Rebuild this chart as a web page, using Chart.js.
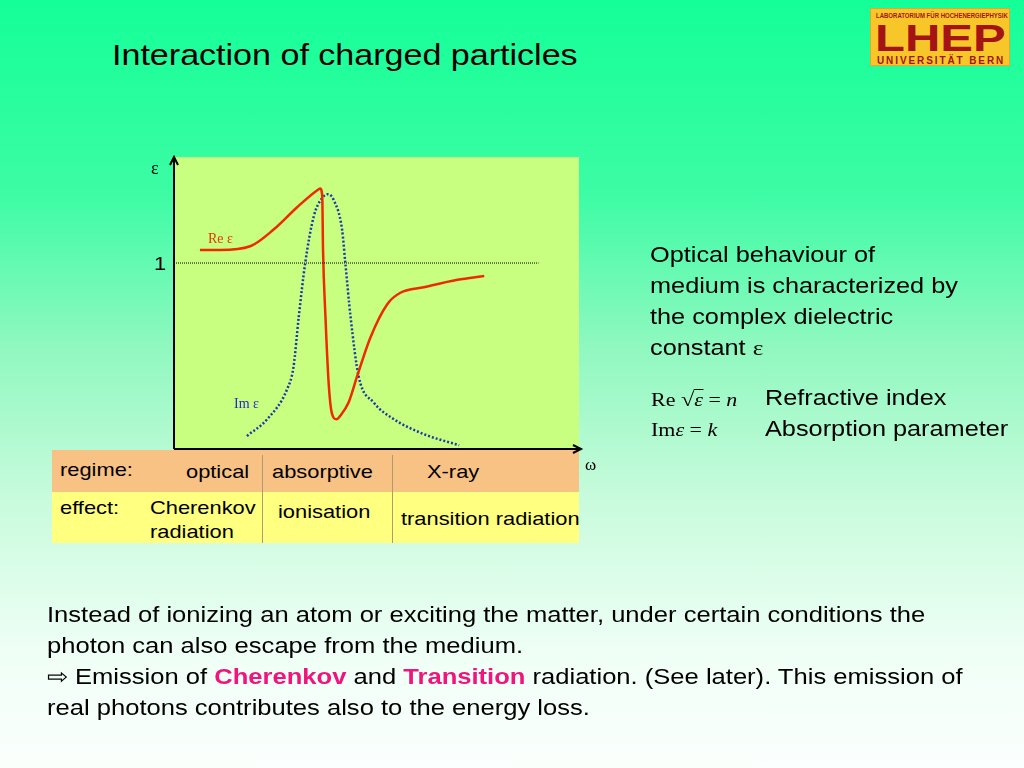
<!DOCTYPE html>
<html>
<head>
<meta charset="utf-8">
<script src="https://cdn.jsdelivr.net/npm/chart.js@4"></script>
<style>
  html, body { margin: 0; padding: 0; }
  body {
    width: 1024px; height: 768px; position: relative; overflow: hidden;
    font-family: "Liberation Sans", Arial, sans-serif; color: #000;
    background: linear-gradient(to bottom, #14ff98 0%, #3cfca4 25%, #8ff8bf 45%, #c8fbdc 65%, #effff6 85%, #fbfffd 100%);
  }
  #chart { position: absolute; left: 0; top: 0; }
  .t { position: absolute; white-space: nowrap; line-height: 1; }
  .sx { transform: scaleX(1.15); transform-origin: 0 0; }
  .serif { font-family: "Liberation Serif", "Times New Roman", serif; }
  .fx { font-size: 18px; transform: scaleX(1.22); transform-origin: 0 0; }
  #title { left: 112px; top: 40px; font-size: 30px; transform: scaleX(1.135); transform-origin: 0 0; }
  #logo {
    position: absolute; left: 870px; top: 8px; width: 140px; height: 58px;
    background: #f7c72a; color: #a41414; font-weight: bold; box-shadow: inset 0 0 0 1px #e0a830;
  }
  #logo div { position: absolute; white-space: nowrap; line-height: 1; transform-origin: 0 0; }
  #logo .a { left: 6px; top: 4px; font-size: 7px; transform: scaleX(0.86); }
  #logo .b { left: 5px; top: 13px; font-size: 36px; font-weight: bold; transform: scaleX(1.36); }
  #logo .c { left: 7px; top: 48px; font-size: 10px; letter-spacing: 1.9px; }
  #tbl { position: absolute; left: 52px; top: 450px; width: 527px; height: 93px; }
  #row1 { position: absolute; left: 0; top: 0; width: 527px; height: 42px; background: #f7c284; }
  #row2 { position: absolute; left: 0; top: 42px; width: 527px; height: 51px; background: #ffff80; }
  .div { position: absolute; width: 1px; background: #b09a70; top: 5px; height: 88px; }
  .cell { font-size: 19px; }
  .side { font-size: 22px; }
  .para { font-size: 22px; left: 47px; transform: scaleX(1.162); transform-origin: 0 0; }
  .hl { color: #f0147c; font-weight: bold; }
</style>
</head>
<body>
<div class="t" id="title">Interaction of charged particles</div>

<div id="logo">
  <div class="a">LABORATORIUM FÜR HOCHENERGIEPHYSIK</div>
  <div class="b">LHEP</div>
  <div class="c">UNIVERSITÄT BERN</div>
</div>

<div id="tbl">
  <div id="row1"></div>
  <div id="row2"></div>
  <div class="div" style="left:210px"></div>
  <div class="div" style="left:340px"></div>
  <div class="t cell sx" style="left:8px;top:10px">regime:</div>
  <div class="t cell sx" style="left:134px;top:12px">optical</div>
  <div class="t cell sx" style="left:220px;top:12px">absorptive</div>
  <div class="t cell sx" style="left:375px;top:12px">X-ray</div>
  <div class="t cell sx" style="left:8px;top:48px">effect:</div>
  <div class="t cell sx" style="left:98px;top:48px">Cherenkov</div>
  <div class="t cell sx" style="left:98px;top:72px">radiation</div>
  <div class="t cell sx" style="left:226px;top:52px">ionisation</div>
  <div class="t cell sx" style="left:349px;top:59px">transition radiation</div>
</div>

<canvas id="chart" width="1024" height="768"></canvas>

<div class="t serif" style="left:151px;top:159px;font-size:18px">ε</div>
<div class="t sx" style="left:154px;top:254px;font-size:19px">1</div>
<div class="t serif" style="left:585px;top:456px;font-size:17px">ω</div>
<div class="t serif" style="left:208px;top:232px;font-size:14px;color:#e03a08">Re ε</div>
<div class="t serif" style="left:234px;top:397px;font-size:14px;color:#2828c8">Im ε</div>

<div class="t side sx" style="left:650px;top:244px">Optical behaviour of</div>
<div class="t side sx" style="left:650px;top:275px">medium is characterized by</div>
<div class="t side sx" style="left:650px;top:306px">the complex dielectric</div>
<div class="t side sx" style="left:650px;top:337px">constant <span class="serif">ε</span></div>

<div class="t serif fx" style="left:651px;top:389px">Re <span style="font-size:20px">√</span><span style="border-top:1px solid #000;font-style:italic">ε</span> = <i>n</i></div>
<div class="t serif fx" style="left:651px;top:421px">Im<i>ε</i> = <i>k</i></div>
<div class="t side sx" style="left:765px;top:387px">Refractive index</div>
<div class="t side sx" style="left:765px;top:418px">Absorption parameter</div>

<div class="t para" style="top:604px">Instead of ionizing an atom or exciting the matter, under certain conditions the</div>
<div class="t para" style="top:635px">photon can also escape from the medium.</div>
<div class="t para" style="top:666px">⇨ Emission of <span class="hl">Cherenkov</span> and <span class="hl">Transition</span> radiation. (See later). This emission of</div>
<div class="t para" style="top:697px">real photons contributes also to the energy loss.</div>

<script>
// curve values (omega in arbitrary units 0..10, epsilon with 1 = reference line)
const reOmega = [0.64, 1.14, 1.88, 2.46, 3.04, 3.53, 3.61, 3.66, 3.68, 3.74, 3.82, 3.90, 4.01, 4.11, 4.31, 4.52, 4.85, 5.27, 5.59, 6.17, 7.00, 7.66];
const reEps   = [1.07, 1.07, 1.09, 1.18, 1.30, 1.39, 1.40, 1.36, 1.07, 0.71, 0.35, 0.19, 0.16, 0.18, 0.25, 0.39, 0.60, 0.78, 0.84, 0.87, 0.91, 0.93];
const imOmega = [1.80, 2.30, 2.79, 2.95, 3.08, 3.24, 3.45, 3.66, 3.80, 3.94, 4.15, 4.23, 4.36, 4.56, 4.93, 5.43, 6.17, 7.04];
const imEps   = [0.07, 0.16, 0.32, 0.44, 0.71, 1.00, 1.25, 1.35, 1.37, 1.34, 1.18, 1.00, 0.71, 0.39, 0.25, 0.16, 0.08, 0.02];
const refOmega = [0, 9.0];
const refEps = [1, 1];

function pts(xs, ys) {
    return xs.map((x, i) => ({ x: x, y: ys[i] }));
}

// green plot area + arrowed axes
const plotBg = {
    id: 'plotBg',
    beforeDraw(chart) {
        const { ctx, chartArea: a } = chart;
        ctx.save();
        ctx.fillStyle = '#c8ff80';
        ctx.fillRect(a.left, a.top, a.right - a.left, a.bottom - a.top);
        ctx.restore();
    },
    afterDraw(chart) {
        const { ctx, chartArea: a } = chart;
        ctx.save();
        ctx.strokeStyle = '#000';
        ctx.lineWidth = 2;
        ctx.beginPath();
        ctx.moveTo(a.left, a.bottom);
        ctx.lineTo(a.left, a.top);
        ctx.moveTo(a.left, a.bottom);
        ctx.lineTo(a.right + 2, a.bottom);
        // arrow heads
        ctx.moveTo(a.left - 4, a.top + 8);
        ctx.lineTo(a.left, a.top);
        ctx.lineTo(a.left + 4, a.top + 8);
        ctx.moveTo(a.right - 6, a.bottom - 4);
        ctx.lineTo(a.right + 2, a.bottom);
        ctx.lineTo(a.right - 6, a.bottom + 4);
        ctx.stroke();
        ctx.restore();
    }
};

new Chart(document.getElementById('chart'), {
    type: 'scatter',
    data: {
        datasets: [{
            label: 'ref',
            data: pts(refOmega, refEps),
            showLine: true,
            borderColor: '#000',
            borderWidth: 1,
            borderDash: [1, 1],
            pointRadius: 0
        }, {
            label: 'Re ε',
            data: pts(reOmega, reEps),
            showLine: true,
            borderColor: '#f02a00',
            borderWidth: 2.5,
            cubicInterpolationMode: 'monotone',
            pointRadius: 0
        }, {
            label: 'Im ε',
            data: pts(imOmega, imEps),
            showLine: true,
            borderColor: '#1a3aa8',
            borderWidth: 2.5,
            borderDash: [2, 2],
            cubicInterpolationMode: 'monotone',
            pointRadius: 0
        }]
    },
    options: {
        responsive: false,
        animation: false,
        layout: { padding: { left: 174, top: 157, right: 445, bottom: 319 } },
        scales: {
            x: { type: 'linear', min: 0, max: 10, display: false },
            y: { type: 'linear', min: 0, max: 1.57, display: false }
        },
        plugins: {
            legend: { display: false },
            tooltip: { enabled: false }
        }
    },
    plugins: [plotBg]
});
</script>
</body>
</html>
